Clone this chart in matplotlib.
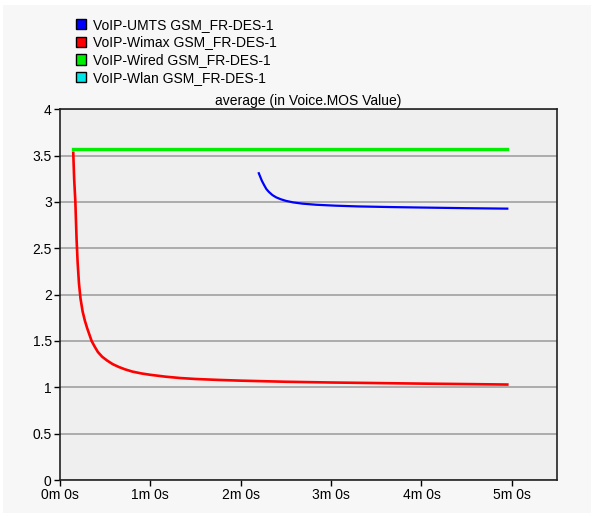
import matplotlib
matplotlib.use('Agg')
import matplotlib.pyplot as plt
from matplotlib.patches import Patch, Rectangle
from matplotlib.ticker import FuncFormatter, MultipleLocator

# Часова вісь у секундах
series_names = ["VoIP-UMTS GSM_FR-DES-1", "VoIP-Wimax GSM_FR-DES-1",
                "VoIP-Wired GSM_FR-DES-1", "VoIP-Wlan GSM_FR-DES-1"]
series_colors = ["#0000ff", "#ff0000", "#00ee00", "#00e5e5"]

umts_t = [132, 133, 134, 135.6, 137, 138.6, 141, 143.5, 146.5, 150, 155, 161, 170,
          183, 198, 220, 240, 270, 297]
umts_v = [3.31, 3.27, 3.23, 3.18, 3.14, 3.11, 3.075, 3.05, 3.03, 3.012, 2.995, 2.982, 2.97,
          2.96, 2.952, 2.945, 2.94, 2.933, 2.928]

wimax_t = [8.8, 9.4, 10.2, 11.0, 11.7, 12.6, 13.6, 15.0, 16.5, 18, 19.5, 21, 23, 25.2,
           28, 31.2, 35, 39, 43, 48, 54, 60, 70, 80, 90, 105, 120, 150, 180, 210,
           240, 270, 297]
wimax_v = [3.53, 3.25, 3.0, 2.6, 2.35, 2.12, 1.96, 1.82, 1.72, 1.64, 1.57, 1.5, 1.44, 1.38,
           1.33, 1.29, 1.25, 1.22, 1.195, 1.17, 1.15, 1.135, 1.115, 1.10, 1.09, 1.08, 1.072,
           1.06, 1.052, 1.046, 1.04, 1.035, 1.03]

wired_t = [8.8, 297]
wired_v = [3.575, 3.575]

wlan_t = []
wlan_v = []

fig = plt.figure(figsize=(5.94, 5.17), dpi=100, facecolor="white")
plt.rcParams['font.family'] = ['Liberation Sans', 'DejaVu Sans']
fig.patches.append(Rectangle((3 / 594, 4 / 517), 588 / 594, 508 / 517,
                             transform=fig.transFigure, facecolor="#f7f7f7",
                             edgecolor="none", zorder=-10))

ax = fig.add_axes([60 / 594, 1 - 480 / 517, 497 / 594, 370.7 / 517])
ax.set_facecolor("#efefef")

ax.plot(wired_t, wired_v, color=series_colors[2], lw=2.4, zorder=3)
ax.plot(wimax_t, wimax_v, color=series_colors[1], lw=1.9, zorder=3,
        solid_joinstyle="round")
ax.plot(umts_t, umts_v, color=series_colors[0], lw=1.6, zorder=3,
        solid_joinstyle="round")
ax.plot(wlan_t, wlan_v, color=series_colors[3], lw=1.6, zorder=3)

ax.set_xlim(0, 330)
ax.set_ylim(0, 4)
ax.xaxis.set_major_locator(MultipleLocator(60))
ax.yaxis.set_major_locator(MultipleLocator(0.5))
ax.xaxis.set_major_formatter(FuncFormatter(lambda x, p: f"{int(x // 60)}m 0s"))
ax.yaxis.set_major_formatter(FuncFormatter(lambda y, p: f"{y:g}"))
ax.grid(axis="y", color="#a0a0a0", lw=1.2, zorder=1)
ax.tick_params(labelsize=10, length=4, width=1, colors="black", pad=2)
for s in ax.spines.values():
    s.set_color("#222222")
    s.set_linewidth(1.2)

ax.set_title("average (in Voice.MOS Value)", fontsize=10, pad=3)

handles = [Patch(facecolor=c, edgecolor="black", linewidth=1) for c in series_colors]
fig.legend(handles, series_names, loc="upper left", bbox_to_anchor=(70 / 594, 1 - 12 / 517),
           frameon=False, fontsize=10, handlelength=0.75, handleheight=0.75,
           handletextpad=0.5, labelspacing=0.28, borderaxespad=0)

fig.savefig("out.png", dpi=100, facecolor=fig.get_facecolor())
